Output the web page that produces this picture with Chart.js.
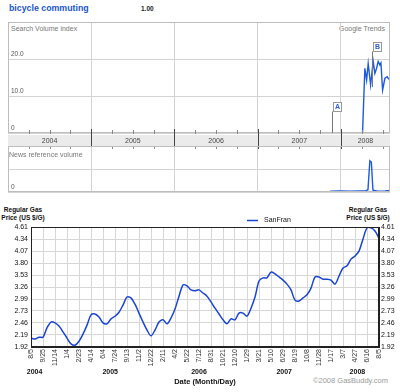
<!DOCTYPE html>
<html>
<head>
<meta charset="utf-8">
<script src="https://cdn.jsdelivr.net/npm/chart.js@4.4.0/dist/chart.umd.min.js"></script>
<style>
  body { margin: 0; width: 400px; height: 392px; background: #fff; position: relative; overflow: hidden;
         font-family: "Liberation Sans", Arial, sans-serif; }
  canvas { position: absolute; left: 0; }
  .t { position: absolute; white-space: nowrap; line-height: 1; }
</style>
</head>
<body>
<div class="t" style="left:9px;top:4px;font-weight:bold;font-size:8.8px;color:#1a56c9">bicycle commuting</div>
<div class="t" style="left:141px;top:6px;font-weight:bold;font-size:6.5px;color:#222">1.00</div>
<div class="t" style="left:11px;top:25px;font-size:7px;color:#777">Search Volume index</div>
<div class="t" style="left:339px;top:25px;font-size:7px;color:#777">Google Trends</div>
<div class="t" style="left:0;top:206px;width:46px;text-align:center;font-weight:bold;font-size:6.5px;line-height:8px;color:#111">Regular Gas<br>Price (US $/G)</div>
<div class="t" style="left:346px;top:206px;width:44px;text-align:center;font-weight:bold;font-size:6.5px;line-height:8px;color:#111">Regular Gas<br>Price (US $/G)</div>
<div class="t" style="left:313px;top:377px;font-size:7.5px;color:#999">©2008 GasBuddy.com</div>

<canvas id="search" width="400" height="130" style="top:20px"></canvas>
<canvas id="news" width="400" height="48" style="top:146px"></canvas>
<div class="t" style="left:9px;top:151px;font-size:7px;color:#777">News reference volume</div>
<canvas id="gas" width="400" height="192" style="top:200px"></canvas>

<script>
Chart.defaults.font.family = '"Liberation Sans", Arial, sans-serif';
Chart.defaults.animation = false;

// Google Trends panel
const trendYears = [2004, 2005, 2006, 2007, 2008];
const trendEnd = 2008.59;
const searchTickValues = [0, 10, 20];
const searchTickLabels = ['0', '10.0', '20.0'];
const searchDates = [2008.26, 2008.288, 2008.309, 2008.328, 2008.357, 2008.388, 2008.408, 2008.429,
                     2008.448, 2008.469, 2008.481, 2008.501, 2008.529, 2008.556, 2008.577];
const searchValues = [0, 17.5, 14.3, 18.8, 13.0, 19.3, 16.1, 17.5, 19.3, 18.4, 18.9, 11.6, 14.8, 15.2, 14.5];
const flagLetters = ['A', 'B'];
const flagDates = [2007.888, 2008.369];
const flagHeights = [6, 22.2];
const flagLineEnds = [0, 12.4];
const newsDates = [2007.87, 2007.99, 2008.11, 2008.23, 2008.30, 2008.325, 2008.348, 2008.366, 2008.385, 2008.445, 2008.53, 2008.59];
const newsValues = [0.03, 0.05, 0.03, 0.05, 0.05, 0.1, 1.36, 1.3, 0.08, 0.04, 0.05, 0.07];

// GasBuddy panel
const gasTickLabels = ['8/5', '9/25', '11/14', '1/4', '2/23', '4/14', '6/4', '7/24', '9/13', '11/2',
                       '12/22', '2/11', '4/2', '5/22', '7/12', '8/31', '10/21', '12/10', '1/29', '3/21',
                       '5/10', '6/29', '8/19', '10/8', '11/28', '1/17', '3/7', '4/27', '6/16', '8/5'];
const gasYearLabels = ['2004', '2005', '2006', '2007', '2008'];
const gasYearPos = [0.3, 6.6, 14.0, 21.1, 27.2];
const gasYTicks = [1.92, 2.19, 2.46, 2.73, 2.99, 3.26, 3.53, 3.80, 4.07, 4.34, 4.61];
const gasStep = 1 / 3;
const gasPrices = [2.12, 2.10, 2.14, 2.14, 2.35, 2.48, 2.46, 2.39, 2.26, 2.12,
                   1.99, 1.96, 2.05, 2.21, 2.41, 2.64, 2.66, 2.59, 2.46, 2.44,
                   2.55, 2.61, 2.70, 2.86, 3.04, 3.02, 2.88, 2.68, 2.48, 2.30,
                   2.17, 2.30, 2.48, 2.53, 2.44, 2.57, 2.77, 3.06, 3.31, 3.29,
                   3.20, 3.18, 3.20, 3.13, 3.06, 2.93, 2.79, 2.66, 2.53, 2.44,
                   2.55, 2.53, 2.68, 2.68, 2.61, 2.79, 3.04, 3.40, 3.47, 3.47,
                   3.60, 3.56, 3.49, 3.42, 3.33, 3.20, 2.97, 2.95, 3.02, 3.09,
                   3.24, 3.49, 3.49, 3.44, 3.44, 3.42, 3.33, 3.51, 3.69, 3.74,
                   3.89, 3.96, 4.07, 4.34, 4.59, 4.59, 4.52, 4.36];

// box around the plot area
const frame = {
  id: 'frame',
  afterDatasetsDraw(chart, args, opts) {
    const a = chart.chartArea, ctx = chart.ctx;
    ctx.save();
    ctx.strokeStyle = opts.color;
    ctx.lineWidth = 1;
    ctx.strokeRect(Math.round(a.left) + 0.5, Math.round(a.top) + 0.5,
                   Math.round(a.right - a.left) - 1, Math.round(a.bottom - a.top) - 1);
    ctx.restore();
  }
};

// Trends-style tick labels sitting inside the plot, above each grid line
const innerTicks = {
  id: 'innerTicks',
  afterDraw(chart, args, opts) {
    const ctx = chart.ctx, y = chart.scales.y;
    ctx.save();
    ctx.fillStyle = '#555';
    ctx.font = '6.5px "Liberation Sans", Arial';
    ctx.textAlign = 'left';
    ctx.textBaseline = 'bottom';
    opts.values.forEach((v, i) => {
      ctx.fillText(opts.labels[i], chart.chartArea.left + 3, y.getPixelForValue(v) - 2);
    });
    ctx.restore();
  }
};

// grey year band with quarter ticks under the search panel
const trendBand = {
  id: 'trendBand',
  afterDraw(chart) {
    const ctx = chart.ctx, a = chart.chartArea, x = chart.scales.x;
    const top = a.bottom + 2, bot = a.bottom + 13;
    ctx.save();
    ctx.fillStyle = '#ebebeb';
    ctx.fillRect(a.left, top, a.right - a.left, bot - top);
    ctx.lineWidth = 1;
    ctx.strokeStyle = '#888';
    ctx.beginPath();
    for (let q = trendYears[0]; q < trendEnd; q += 0.25) {
      if (Math.abs(q - Math.round(q)) < 0.01) continue;
      const px = Math.round(x.getPixelForValue(q)) + 0.5;
      ctx.moveTo(px, a.bottom - 3); ctx.lineTo(px, a.bottom + 1);
      ctx.moveTo(px, bot); ctx.lineTo(px, bot + 3);
    }
    ctx.stroke();
    ctx.strokeStyle = '#444';
    ctx.beginPath();
    trendYears.slice(1).forEach(yr => {
      const px = Math.round(x.getPixelForValue(yr)) + 0.5;
      ctx.moveTo(px, a.bottom - 4); ctx.lineTo(px, bot + 3);
    });
    ctx.stroke();
    ctx.fillStyle = '#444';
    ctx.font = '7px "Liberation Sans", Arial';
    ctx.textAlign = 'center';
    ctx.textBaseline = 'middle';
    trendYears.forEach(yr => {
      const mid = (yr + Math.min(yr + 1, trendEnd)) / 2;
      ctx.fillText(String(yr), x.getPixelForValue(mid), (top + bot) / 2 + 0.5);
    });
    ctx.restore();
  }
};

// lettered news flags
const flags = {
  id: 'flags',
  afterDatasetsDraw(chart) {
    const ctx = chart.ctx, x = chart.scales.x, y = chart.scales.y;
    ctx.save();
    flagLetters.forEach((letter, i) => {
      const px = Math.round(x.getPixelForValue(flagDates[i])) + 0.5;
      const boxBottom = Math.round(y.getPixelForValue(flagHeights[i])) + 0.5;
      const lineEnd = y.getPixelForValue(flagLineEnds[i]);
      ctx.strokeStyle = '#777';
      ctx.lineWidth = 1;
      ctx.beginPath();
      ctx.moveTo(px, boxBottom); ctx.lineTo(px, lineEnd);
      ctx.stroke();
      ctx.fillStyle = '#fff';
      ctx.fillRect(px + 1, boxBottom - 9, 8, 9);
      ctx.strokeStyle = '#999';
      ctx.strokeRect(px + 1, boxBottom - 9, 8, 9);
      ctx.fillStyle = '#2b5fd0';
      ctx.font = 'bold 7px "Liberation Sans", Arial';
      ctx.textAlign = 'center';
      ctx.textBaseline = 'middle';
      ctx.fillText(letter, px + 5, boxBottom - 4);
    });
    ctx.restore();
  }
};

// small legend above the gas plot
const gasLegend = {
  id: 'gasLegend',
  afterDraw(chart) {
    const ctx = chart.ctx, a = chart.chartArea, ds = chart.data.datasets[0];
    const lx = a.left + 216, ly = a.top - 6.5;
    ctx.save();
    ctx.strokeStyle = ds.borderColor;
    ctx.lineWidth = 1.5;
    ctx.beginPath();
    ctx.moveTo(lx, ly); ctx.lineTo(lx + 11, ly);
    ctx.stroke();
    ctx.fillStyle = '#111';
    ctx.font = '7px "Liberation Sans", Arial';
    ctx.textBaseline = 'middle';
    ctx.fillText(ds.label, lx + 17, ly);
    ctx.restore();
  }
};

function trendScales(yMax, yTicks) {
  return {
    x: {
      type: 'linear', min: trendYears[0], max: trendEnd,
      afterBuildTicks: s => { s.ticks = trendYears.map(v => ({ value: v })); },
      ticks: { display: false },
      grid: { color: '#d3d3d3', drawTicks: false },
      border: { display: false }
    },
    y: {
      min: 0, max: yMax,
      afterBuildTicks: s => { s.ticks = yTicks.map(v => ({ value: v })); },
      ticks: { display: false },
      grid: { color: '#d3d3d3', drawTicks: false },
      border: { display: false }
    }
  };
}

new Chart(document.getElementById('search'), {
  type: 'line',
  data: {
    datasets: [{
      data: searchDates.map((d, i) => ({ x: d, y: searchValues[i] })),
      borderColor: '#1d5ae0', borderWidth: 1.4, pointRadius: 0, tension: 0
    }]
  },
  options: {
    responsive: false,
    layout: { padding: { top: 2, bottom: 17, left: 8, right: 10 } },
    scales: trendScales(30, [0, 10, 20, 30]),
    plugins: {
      legend: { display: false }, tooltip: { enabled: false },
      frame: { color: '#bdbdbd' },
      innerTicks: { values: searchTickValues, labels: searchTickLabels }
    }
  },
  plugins: [frame, innerTicks, trendBand, flags]
});

new Chart(document.getElementById('news'), {
  type: 'line',
  data: {
    datasets: [{
      data: newsDates.map((d, i) => ({ x: d, y: newsValues[i] })),
      borderColor: '#1d5ae0', borderWidth: 1.4, pointRadius: 0, tension: 0
    }]
  },
  options: {
    responsive: false,
    layout: { padding: { top: 0, bottom: 2, left: 8, right: 10 } },
    scales: trendScales(2, [0, 1, 2]),
    plugins: {
      legend: { display: false }, tooltip: { enabled: false },
      frame: { color: '#bdbdbd' },
      innerTicks: { values: [0], labels: ['0'] }
    }
  },
  plugins: [frame, innerTicks]
});

const gasAxisFont = { size: 7 };
new Chart(document.getElementById('gas'), {
  type: 'line',
  data: {
    datasets: [{
      label: 'SanFran',
      data: gasPrices.map((p, i) => ({ x: i * gasStep, y: p })),
      borderColor: '#1a44d4', borderWidth: 1.5, pointRadius: 0, tension: 0.3
    }]
  },
  options: {
    responsive: false,
    layout: { padding: { top: 27 } },
    scales: {
      x: {
        type: 'linear', min: 0, max: gasTickLabels.length - 1,
        afterBuildTicks: s => { s.ticks = gasTickLabels.map((_, i) => ({ value: i })); },
        afterFit: s => { s.height = 20; },
        ticks: { callback: v => gasTickLabels[v], minRotation: 90, maxRotation: 90, autoSkip: false,
                 padding: 2, color: '#333', font: gasAxisFont },
        grid: { color: '#d6d6d6', drawTicks: false },
        border: { color: '#222' }
      },
      years: {
        type: 'linear', position: 'bottom', min: 0, max: gasTickLabels.length - 1,
        afterBuildTicks: s => { s.ticks = gasYearPos.map(v => ({ value: v })); },
        afterFit: s => { s.height = 25; },
        ticks: { callback: (v, i) => gasYearLabels[i], autoSkip: false, maxRotation: 0, padding: 1,
                 color: '#111', font: { size: 7, weight: 'bold' } },
        grid: { display: false, drawTicks: false },
        border: { display: false },
        title: { display: true, text: 'Date (Month/Day)', color: '#111',
                 font: { size: 7.5, weight: 'bold' }, padding: { top: 0, bottom: 6 } }
      },
      y: {
        position: 'left', min: gasYTicks[0], max: gasYTicks[gasYTicks.length - 1],
        afterBuildTicks: s => { s.ticks = gasYTicks.map(v => ({ value: v })); },
        afterFit: s => { s.width = 31; },
        ticks: { callback: v => v.toFixed(2), padding: 3, color: '#111', font: gasAxisFont },
        grid: { color: '#d6d6d6', drawTicks: false },
        border: { color: '#222' }
      },
      y2: {
        position: 'right', min: gasYTicks[0], max: gasYTicks[gasYTicks.length - 1],
        afterBuildTicks: s => { s.ticks = gasYTicks.map(v => ({ value: v })); },
        afterFit: s => { s.width = 21; },
        ticks: { callback: v => v.toFixed(2), padding: 2, color: '#111', font: gasAxisFont },
        grid: { drawOnChartArea: false, drawTicks: false },
        border: { color: '#222' }
      }
    },
    plugins: {
      legend: { display: false }, tooltip: { enabled: false },
      frame: { color: '#222' }
    }
  },
  plugins: [frame, gasLegend]
});
</script>
</body>
</html>
